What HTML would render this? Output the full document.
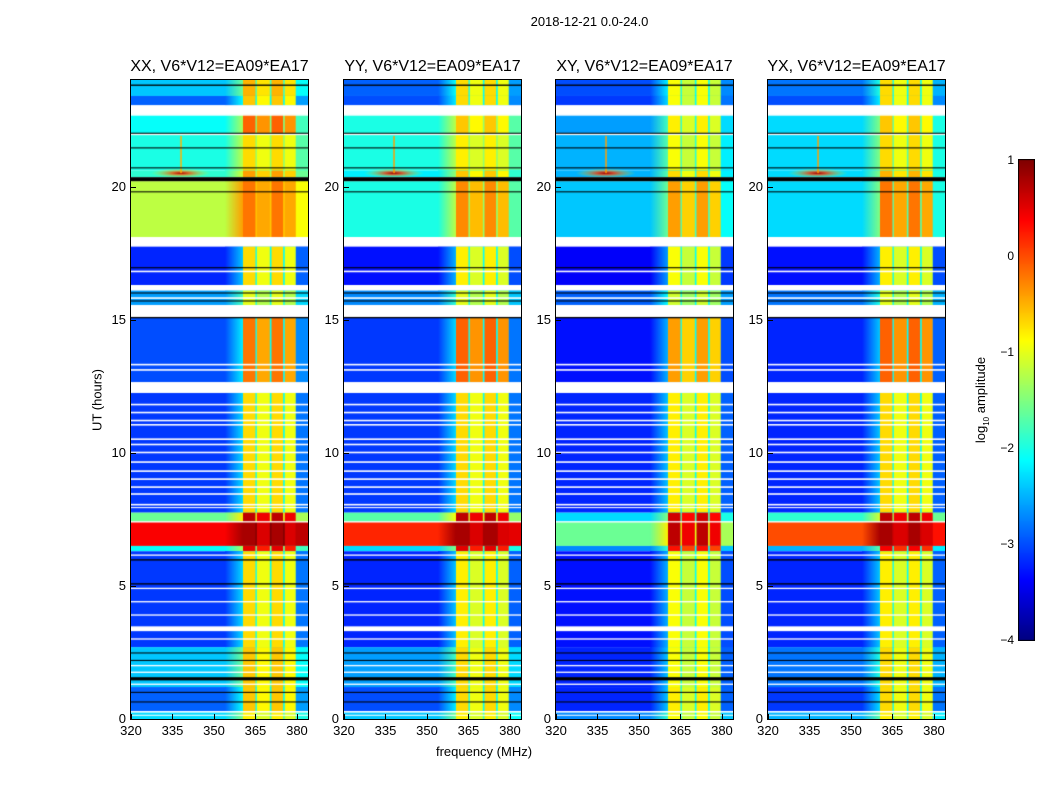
<!DOCTYPE html>
<html><head><meta charset="utf-8">
<style>
body{margin:0;background:#fff;width:1050px;height:800px;overflow:hidden;font-family:"Liberation Sans",sans-serif;}
#root{position:relative;width:1050px;height:800px;}
.t{position:absolute;white-space:nowrap;color:#000;}
canvas{position:absolute;}
</style></head>
<body><div id="root">
<div class="t" style="left:0;width:1179px;text-align:center;top:14px;font-size:13px;">2018-12-21 0.0-24.0</div>
<div class="t" style="left:97px;top:400px;font-size:13px;transform:translate(-50%,-50%) rotate(-90deg);">UT (hours)</div>
<div class="t" style="left:484px;top:744px;font-size:13px;transform:translateX(-50%);">frequency (MHz)</div>
<div class="t" style="left:982px;top:400px;font-size:13px;transform:translate(-50%,-50%) rotate(-90deg);">log<sub style="font-size:8px">10</sub> amplitude</div>
<canvas id="cb" style="left:1018px;top:159px;" width="17" height="482"></canvas>
</div>
<script>
// ---------- data ----------
const panelTitles=["XX, V6*V12=EA09*EA17","YY, V6*V12=EA09*EA17","XY, V6*V12=EA09*EA17","YX, V6*V12=EA09*EA17"];
const xTicks=[320,335,350,365,380];
const yTicks=[0,5,10,15,20];
const cbTicks=[1,0,-1,-2,-3,-4];
const cbTickLabels=["1","0","\u22121","\u22122","\u22123","\u22124"];
// time bands: [t0, t1]
const bandTimes=[[23.4,24],[23.05,23.4],[22.0,22.7],[20.6,21.95],[20.35,20.6],[18.1,20.2],[16.3,17.75],[15.55,16.1],[12.65,15.1],[7.75,12.25],[7.4,7.75],[6.5,7.4],[6.3,6.5],[2.7,6.3],[1.2,2.7],[0.3,1.2],[0,0.3]];
// per-panel background level (log10 amplitude) for each band
const lowXX=[-2.4,-2.9,-2.1,-2.0,-1.9,-1.2,-3.2,-2.6,-3.0,-3.1,-1.6,0.4,-2.1,-3.1,-2.4,-2.9,-2.3];
const lowYY=[-2.9,-3.0,-2.0,-2.0,-2.2,-2.0,-3.3,-2.7,-3.1,-3.1,-1.7,0.2,-2.3,-3.2,-2.6,-3.0,-2.4];
const lowXY=[-3.0,-3.1,-2.6,-2.5,-2.5,-2.4,-3.4,-2.9,-3.3,-3.2,-2.3,-1.6,-2.7,-3.3,-3.2,-3.2,-2.7];
const lowYX=[-2.8,-3.0,-2.3,-2.3,-2.3,-2.3,-3.3,-2.8,-3.2,-3.2,-1.9,0.0,-2.5,-3.2,-2.8,-3.1,-2.5];
// per-panel RFI-band level for each band
const rfiXX=[-0.5,-0.6,-0.1,-0.7,-0.4,-0.2,-0.7,-1.0,-0.2,-0.7,0.7,0.8,0.5,-0.7,-0.6,-0.6,-0.8];
const rfiYY=[-0.7,-0.7,-0.6,-0.8,-0.6,-0.3,-0.8,-1.0,-0.1,-0.7,0.7,0.8,0.5,-0.8,-0.7,-0.7,-0.8];
const rfiXY=[-0.9,-0.9,-0.8,-0.9,-0.7,-0.4,-0.9,-1.1,-0.4,-0.8,0.6,0.7,0.3,-0.9,-0.9,-0.8,-0.9];
const rfiYX=[-0.7,-0.7,-0.6,-0.7,-0.5,-0.2,-0.8,-1.0,-0.1,-0.7,0.7,0.8,0.4,-0.8,-0.7,-0.7,-0.8];
const lows=[lowXX,lowYY,lowXY,lowYX];
const rfis=[rfiXX,rfiYY,rfiXY,rfiYX];
// RFI sub-bands [f0,f1] in MHz
const rfiBands=[[360.5,365.0],[365.5,370.2],[370.8,375.0],[375.6,379.6]];
const rampBand=[354,360.5];
const edgeBand=[379.6,384];
// flagged rows (white) and dropouts (black), in hours
const whiteFlags=[[22.88,23.05],[22.66,22.72],[21.93,21.98],[17.75,18.1],[16.78,16.84],[16.1,16.3],[15.78,15.84],[15.42,15.55],[15.1,15.3],[13.28,13.34],[13.08,13.14],[12.25,12.65],[11.78,11.84],[11.48,11.54],[11.18,11.24],[11.02,11.08],[10.48,10.54],[10.28,10.34],[9.98,10.04],[9.62,9.68],[9.28,9.34],[8.98,9.04],[8.68,8.74],[8.42,8.48],[8.02,8.08],[7.92,7.96],[7.38,7.43],[6.13,6.18],[4.88,4.93],[4.38,4.43],[3.88,3.93],[3.3,3.48],[2.98,3.03],[1.98,2.03],[1.73,1.78],[1.28,1.33],[0.24,0.3],[0.12,0.16]];
const blackFlags=[[23.78,23.83],[21.98,22.02],[21.43,21.47],[20.68,20.72],[20.2,20.35],[19.78,19.82],[16.93,16.97],[15.98,16.02],[15.68,15.72],[15.05,15.1],[5.95,6.0],[5.05,5.1],[2.46,2.5],[2.18,2.22],[1.45,1.57],[0.98,1.02],[0.62,0.66]];
// narrow RFI spikes: [freq MHz, hour, level] per panel
const spikeFreq=[338,338,338,338];
const spikeTime=[20.5,20.5,20.5,20.5];
const spikeLevel=[0.8,0.9,0.9,0.9];

// ---------- geometry ----------
const panelLeft=[131,344,556,768];
const PW=177,PT=80,PH=639;
const fmin=320,fmax=384,tmin=0,tmax=24;
function jetRGB(v){
  let x=(v+4)/5; x=Math.max(0,Math.min(1,x));
  const c=(a)=>Math.max(0,Math.min(1,a));
  return [c(1.5-Math.abs(4*x-3)),c(1.5-Math.abs(4*x-2)),c(1.5-Math.abs(4*x-1))].map(a=>Math.round(a*255));
}
function jet(v,a){const c=jetRGB(v);return a===undefined?`rgb(${c[0]},${c[1]},${c[2]})`:`rgba(${c[0]},${c[1]},${c[2]},${a})`;}
const root=document.getElementById('root');
function txt(name,style,s){const d=document.createElement('div');d.className='t';d.setAttribute('style',style);d.textContent=s;


root.appendChild(d);return d;}

panelLeft.forEach((L,p)=>{
  const cv=document.createElement('canvas');
  cv.width=PW;cv.height=PH;cv.style.left=L+'px';cv.style.top=PT+'px';
  
  
  root.appendChild(cv);
  const ctx=cv.getContext('2d');
  const xs=f=>(f-fmin)/(fmax-fmin)*PW;
  const ys=t=>(tmax-t)/(tmax-tmin)*PH;
  bandTimes.forEach((bt,i)=>{
    const y0=ys(bt[1]),y1=ys(bt[0]);
    const lo=lows[p][i],hi=rfis[p][i];
    ctx.fillStyle=jet(lo);ctx.fillRect(0,y0,PW,y1-y0);
    const g=ctx.createLinearGradient(xs(rampBand[0]),0,xs(rampBand[1]),0);
    g.addColorStop(0,jet(lo));g.addColorStop(1,jet(Math.min(lo+0.8,hi)));
    ctx.fillStyle=g;ctx.fillRect(xs(rampBand[0]),y0,xs(rampBand[1])-xs(rampBand[0]),y1-y0);
    ctx.fillStyle=jet(Math.max(lo+0.6,-2.1));
    ctx.fillRect(xs(rfiBands[0][0]),y0,xs(rfiBands[3][1])-xs(rfiBands[0][0]),y1-y0);
    rfiBands.forEach((rb,k)=>{
      ctx.fillStyle=jet(hi-(k%2)*0.25);
      ctx.fillRect(xs(rb[0]),y0,xs(rb[1])-xs(rb[0]),y1-y0);
    });
    ctx.fillStyle=jet(lo+0.3);ctx.fillRect(xs(edgeBand[0]),y0,xs(edgeBand[1])-xs(edgeBand[0]),y1-y0);
  });
  const sx=xs(spikeFreq[p]),sy=ys(spikeTime[p]);
  const sg=ctx.createRadialGradient(sx,sy,0,sx,sy,30);
  sg.addColorStop(0,jet(spikeLevel[p],1));sg.addColorStop(0.3,jet(spikeLevel[p]-0.8,0.8));sg.addColorStop(1,jet(-1,0));
  ctx.save();ctx.translate(sx,sy);ctx.scale(1,0.15);ctx.translate(-sx,-sy);
  ctx.fillStyle=sg;ctx.fillRect(sx-30,sy-30,60,60);ctx.restore();
  ctx.fillStyle=jet(spikeLevel[p]-1.3);ctx.fillRect(sx-0.5,ys(21.9),1.5,ys(spikeTime[p])-ys(21.9));
  whiteFlags.forEach(w=>{ctx.fillStyle='#fff';ctx.fillRect(0,ys(w[1]),PW,Math.max(1,ys(w[0])-ys(w[1])));});
  blackFlags.forEach(w=>{ctx.fillStyle='#000';ctx.fillRect(0,ys(w[1]),PW,Math.max(1,ys(w[0])-ys(w[1])));});
  const fr=document.createElement('div');
  fr.setAttribute('style',`position:absolute;left:${L-1}px;top:${PT-1}px;width:${PW}px;height:${PH}px;border:1px solid #000;`);
  
  
  root.appendChild(fr);
  txt('panel-title',`left:${L+PW/2}px;top:58px;font-size:16px;transform:translateX(-50%);`,panelTitles[p]);
  xTicks.forEach(f=>{
    const x=L+xs(f);
    const tk=document.createElement('div');
    tk.setAttribute('style',`position:absolute;left:${x}px;top:${PT+PH-5}px;width:1px;height:5px;background:#000;`);
    
    
    root.appendChild(tk);
    txt('x-tick-label',`left:${x}px;top:723px;font-size:13px;transform:translateX(-50%);`,String(f));
  });
  yTicks.forEach(t=>{
    const y=PT+ys(t);
    const tk=document.createElement('div');
    tk.setAttribute('style',`position:absolute;left:${L}px;top:${y}px;width:5px;height:1px;background:#000;`);
    
    
    root.appendChild(tk);
    txt('y-tick-label',`left:${L-5}px;top:${y-8}px;font-size:13px;transform:translateX(-100%);`,String(t));
  });
});
const cb=document.getElementById('cb').getContext('2d');
for(let i=0;i<480;i++){cb.fillStyle=jet(1-i/480*5);cb.fillRect(1,1+i,15,1);}
cb.strokeStyle='#000';cb.lineWidth=1;cb.strokeRect(0.5,0.5,16,481);
cbTicks.forEach((v,i)=>{
  const y=160+(1-v)/5*480;
  txt('colorbar-tick-label',`left:1014px;top:${y-7}px;font-size:12px;transform:translateX(-100%);`,cbTickLabels[i]);
});
</script>
</body></html>
